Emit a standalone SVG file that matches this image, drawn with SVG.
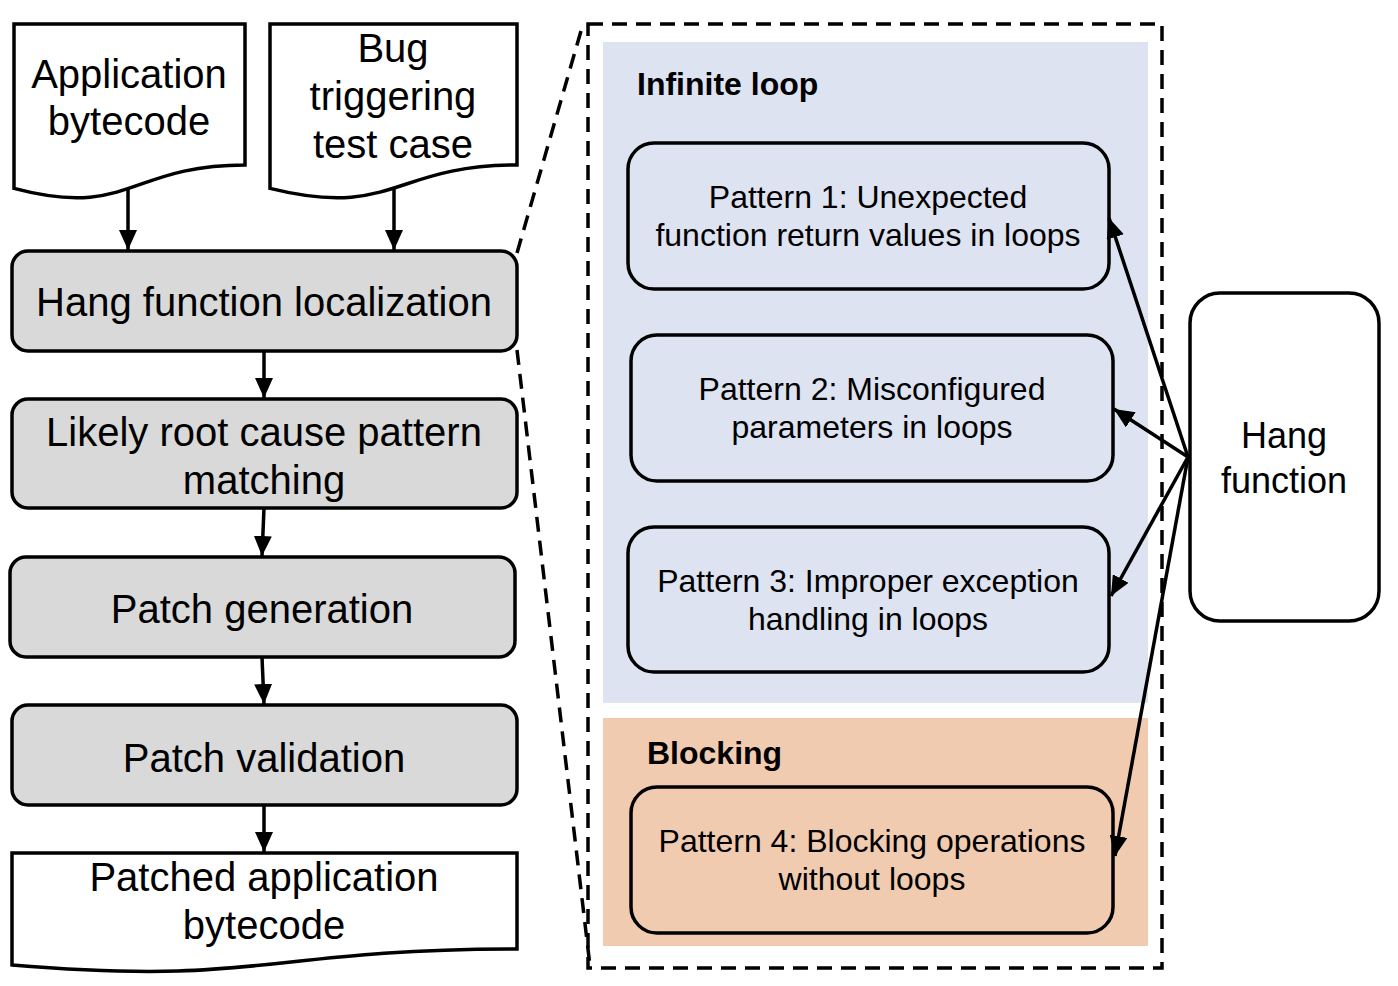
<svg xmlns="http://www.w3.org/2000/svg" width="1398" height="986" viewBox="0 0 1398 986">
<defs>
<marker id="ah" viewBox="0 0 20 18" refX="20" refY="9" markerWidth="20" markerHeight="18" markerUnits="userSpaceOnUse" orient="auto">
<path d="M0,0 L20,9 L0,18 Z" fill="#000"/>
</marker>
<style>
.t{font-family:"Liberation Sans",Arial,Helvetica,sans-serif;fill:#000;text-anchor:middle}
.big{font-size:40px}
.mid{font-size:32px}
.hang{font-size:36px}
.hdr{font-family:"Liberation Sans",Arial,Helvetica,sans-serif;font-size:32px;font-weight:bold;fill:#000}
.doc{fill:#fff;stroke:#000;stroke-width:3.5}
.proc{fill:#d9d9d9;stroke:#000;stroke-width:3.5}
.pat{fill:none;stroke:#000;stroke-width:3.5}
.dash{fill:none;stroke:#000;stroke-width:3.5;stroke-dasharray:15 9}
.edge{fill:none;stroke:#000;stroke-width:3.5;marker-end:url(#ah)}
</style>
</defs>
<rect x="0" y="0" width="1398" height="986" fill="#fff"/>

<g id="zoom-region">
<rect x="603" y="42" width="545" height="661" fill="#dde3f0"/>
<rect x="603" y="718" width="545" height="228" fill="#f1cbb0"/>
<rect x="588" y="24" width="574" height="944" class="dash"/>
<line x1="517" y1="253" x2="583" y2="24" class="dash"/>
<line x1="517" y1="350" x2="590" y2="966" class="dash"/>
<text x="637" y="95" class="hdr">Infinite loop</text>
<text x="647" y="764" class="hdr">Blocking</text>
</g>

<g id="app-bytecode">
<path d="M14,24 H245 V165 C129.5,165 129.5,219 14,188.4 Z" class="doc"/>
<text x="129" y="88" class="t big">Application</text>
<text x="129" y="135" class="t big">bytecode</text>
</g>

<g id="bug-test">
<path d="M270,24 H517 V165 C393.5,165 393.5,219 270,188.4 Z" class="doc"/>
<text x="393" y="62" class="t big">Bug</text>
<text x="393" y="110" class="t big">triggering</text>
<text x="393" y="158" class="t big">test case</text>
</g>

<g id="hang-localization">
<rect x="12" y="251" width="505" height="100" rx="16" class="proc"/>
<text x="264" y="316" class="t big">Hang function localization</text>
</g>

<g id="pattern-matching">
<rect x="12" y="399" width="505" height="109" rx="16" class="proc"/>
<text x="264" y="446" class="t big">Likely root cause pattern</text>
<text x="264" y="494" class="t big">matching</text>
</g>

<g id="patch-generation">
<rect x="10" y="557" width="505" height="100" rx="16" class="proc"/>
<text x="262" y="623" class="t big">Patch generation</text>
</g>

<g id="patch-validation">
<rect x="12" y="705" width="505" height="100" rx="16" class="proc"/>
<text x="264" y="772" class="t big">Patch validation</text>
</g>

<g id="patched-bytecode">
<path d="M12,853 H517 V949 C264.5,949 264.5,986 12,965 Z" class="doc"/>
<text x="264" y="891" class="t big">Patched application</text>
<text x="264" y="939" class="t big">bytecode</text>
</g>

<g id="pattern1">
<rect x="628" y="143" width="481" height="146" rx="26" class="pat"/>
<text x="868" y="208" class="t mid">Pattern 1: Unexpected</text>
<text x="868" y="246" class="t mid">function return values in loops</text>
</g>

<g id="pattern2">
<rect x="631" y="335" width="482" height="146" rx="26" class="pat"/>
<text x="872" y="400" class="t mid">Pattern 2: Misconfigured</text>
<text x="872" y="438" class="t mid">parameters in loops</text>
</g>

<g id="pattern3">
<rect x="628" y="527" width="481" height="145" rx="26" class="pat"/>
<text x="868" y="592" class="t mid">Pattern 3: Improper exception</text>
<text x="868" y="630" class="t mid">handling in loops</text>
</g>

<g id="pattern4">
<rect x="631" y="787" width="482" height="146" rx="26" class="pat"/>
<text x="872" y="852" class="t mid">Pattern 4: Blocking operations</text>
<text x="872" y="890" class="t mid">without loops</text>
</g>

<g id="hang-function">
<rect x="1190" y="293" width="189" height="328" rx="30" fill="#fff" stroke="#000" stroke-width="3.5"/>
<text x="1284" y="448" class="t hang">Hang</text>
<text x="1284" y="493" class="t hang">function</text>
</g>

<g id="connectors">
<line x1="128" y1="189" x2="128" y2="250" class="edge"/>
<line x1="394" y1="189" x2="394" y2="250" class="edge"/>
<line x1="264" y1="351" x2="264" y2="398" class="edge"/>
<line x1="264" y1="508" x2="262" y2="556" class="edge"/>
<line x1="262" y1="657" x2="264" y2="704" class="edge"/>
<line x1="264" y1="805" x2="264" y2="852" class="edge"/>
<line x1="1188" y1="457" x2="1109" y2="218" class="edge"/>
<line x1="1188" y1="457" x2="1114" y2="409" class="edge"/>
<line x1="1188" y1="457" x2="1111" y2="596" class="edge"/>
<line x1="1188" y1="457" x2="1115" y2="856" class="edge"/>
</g>
</svg>
